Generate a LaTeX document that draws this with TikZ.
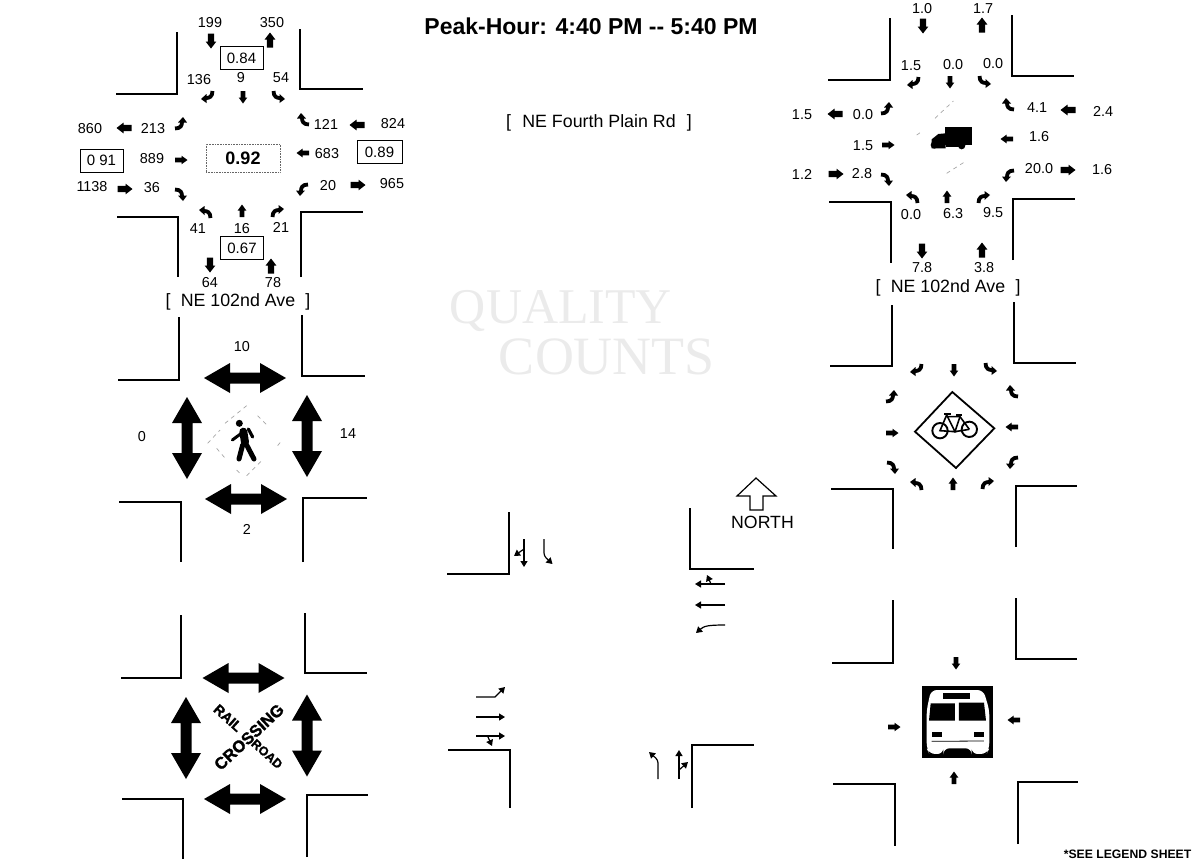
\documentclass[tikz,border=0pt]{standalone}
\usepackage{fontspec}
\setmainfont{Liberation Sans}
\newfontfamily\wmfont{Liberation Serif}
\newfontfamily\heavyfont[FakeBold=1.6]{Liberation Sans Bold}
\usetikzlibrary{arrows.meta}
\tikzset{
 lbl/.style={font=\fontsize{14.4}{15}\selectfont,inner sep=0pt},
 road/.style={font=\fontsize{17.8}{18}\selectfont,inner sep=0pt},
 valbox/.style={draw,line width=0.9pt,font=\fontsize{15}{16}\selectfont,inner sep=0pt,minimum width=43pt,minimum height=23pt},
 curb/.style={line width=2pt,line join=miter},
 lane/.style={line width=1.2pt,-{Triangle[length=6pt,width=7pt]}},
 rrtxt/.style={font=\heavyfont\fontsize{14}{16}\selectfont,inner sep=0pt},
 faint/.style={gray!70,line width=0.7pt,dash pattern=on 4pt off 4pt},
 bigar/.pic={\fill (7.5,0)--(0.5,-5.4)--(0.5,-3.2)--(-7.5,-3.2)--(-7.5,3.2)--(0.5,3.2)--(0.5,5.4)--cycle;},
 smallar/.pic={\fill (6.5,0)--(0.5,-4.3)--(0.5,-2.4)--(-6,-2.4)--(-6,2.4)--(0.5,2.4)--(0.5,4.3)--cycle;},
 turnA/.pic={\draw[line width=3.8pt] (4.5,-6) .. controls (4.5,0) and (1,1) .. (-2,1);
   \fill (-7,2)--(-1.5,-3)--(-1.5,6)--cycle;},
 turnB/.pic={\draw[line width=3.8pt] (-4.5,-6) .. controls (-4.5,0) and (-1,1) .. (2,1);
   \fill (7,2)--(1.5,-3)--(1.5,6)--cycle;},
 dbl/.pic={\fill (41,0)--(15,-15)--(15,-5.5)--(-15,-5.5)--(-15,-15)--(-41,0)--(-15,15)--(-15,5.5)--(15,5.5)--(15,15)--cycle;},
}
\begin{document}
\begin{tikzpicture}[x=1pt,y=-1pt]
\useasboundingbox (0,0) rectangle (1192,860);
\clip (0,0) rectangle (1192,860);
% watermark
\node[text=black!8,font=\wmfont\fontsize{50}{52}\selectfont,inner sep=0pt] (wmA) at (561,311) {QUALITY};
\node[text=black!8,font=\wmfont\fontsize{54}{56}\selectfont,inner sep=0pt] (wmB) at (607,357) {COUNTS};
% title etc
\node[font=\bfseries\fontsize{23}{24}\selectfont,inner sep=0pt] (title) at (591,26) {Peak-Hour: 4:40 PM -{}- 5:40 PM};
\node[road] (ewname) at (599,123) {[\hspace{0.35em} NE Fourth Plain Rd\hspace{0.35em} ]};
\node[road] (nsA) at (238,302) {[\hspace{0.3em} NE 102nd Ave\hspace{0.3em} ]};
\node[road] (nsB) at (948,288) {[\hspace{0.3em} NE 102nd Ave\hspace{0.3em} ]};
\node[font=\bfseries\fontsize{12.2}{13}\selectfont,inner sep=0pt,anchor=east] (legend) at (1191.5,854) {*SEE LEGEND SHEET};
% curbs
\foreach \a/\b/\c/\d/\e/\f/\g/\h/\i/\j/\k/\l/\m/\n/\o/\p in {
 116/94/177/32/300/29/89/363/117/217/178/277/301/277/212/363,
 118/380/179/317/302/315/376/365/119/502/181/562/303/562/498/367,
 121/678/181/615/305/613/673/367/122/799/183/859/307/857/795/368,
 828/80/890/18/1012/15/76/1074/829/202/891/263/1013/260/199/1075,
 830/366/892/305/1014/302/363/1076/831/489/893/549/1016/547/486/1077,
 832/663/893/600/1016/598/659/1077/833/784/895/846/1018/844/782/1078,
 447/574/509/512/690/508/569/754/448/750/510/808/692/808/745/754}{
 \draw[curb] (\a,\b) -- (\c,\b) -- (\c,\d);
 \draw[curb] (\e,\f) -- (\e,\g) -- (\h,\g);
 \draw[curb] (\i,\j) -- (\k,\j) -- (\k,\l);
 \draw[curb] (\m,\n) -- (\m,\o) -- (\p,\o);
}
% --- volumes
\foreach \n/\x/\y/\t in {a1/210/23/199,a2/272/23/350,a3/199/80/136,a4/241/78/9,a5/281/78/54,
 a6/90/129/860,a7/153/129/213,a8/326/124/121,a9/393/124/824,a10/152/159/889,a11/327/154/683,
 a12/92/187/1138,a13/152/188/36,a14/328/186/20,a15/392/184/965,a16/198/229/41,a17/242/229/16,a18/281/227/21,
 a19/210/283/64,a20/273/283/78,
 b1/922/9/1.0,b2/983/9/1.7,b3/911/66/1.5,b4/953/65/0.0,b5/993/64/0.0,b6/802/115/1.5,b7/863/115/0.0,
 b8/1037/108/4.1,b9/1103/111/2.4,b10/863/146/1.5,b11/1039/137/1.6,b12/802/174/1.2,b13/862/174/2.8,
 b14/1039/169/20.0,b15/1102/170/1.6,b16/911/215/0.0,b17/953/214/6.3,b18/993/213/9.5,b19/922/268/7.8,b20/984/268/3.8,
 c1/242/347/10,c2/247/529/2,c3/142/437/0,c4/348/434/14}{
 \node[lbl] (\n) at (\x,\y) {\t};
}
\node[valbox] (p84) at (241.5,58) {0.84};
\node[valbox] (p67) at (242,248) {0.67};
\node[valbox] (p91) at (101.5,160.5) {0 91};
\node[valbox,minimum width=45pt] (p89) at (379.5,152) {0.89};
\node[draw=black!60,line width=0.6pt,densely dotted,minimum width=74pt,minimum height=28pt,inner sep=0pt,font=\bfseries\fontsize{18}{19}\selectfont] (p92) at (243,158) {0.92};
% --- arrows top-left
\foreach \x/\y/\r in {211/41/-90,270/40/90,210/265/-90,271/266/90,124/128/180,357/125/180,125/189/0,358/185/0,
  923/26/-90,982/25/90,835/114/180,1068/110/180,836/174/0,1068/170/0,922/251/-90,982/250/90}{
 \pic[rotate=\r] at (\x,\y) {bigar};
}
\foreach \x/\y/\r in {243/97/-90,181/160/0,303/153/180,242/211/90,
  950/82/-90,888/145/0,1007/139/180,947/197/90,
  954/370/-90,892/433/0,1012/427/180,953/484/90,
  956/663/-90,1014/720/180,894/727/0,954/778/90}{
 \pic[rotate=\r] at (\x,\y) {smallar};
}
\foreach \xa/\ya/\xb/\yb/\xc/\yc/\xd/\yd/\xe/\ye/\xf/\yf/\xg/\yg/\xh/\yh in {
 208/97/278/97/181/124/303/120/181/194/302/189/206/212/277/211,
 914/83/984/82/887/109/1008/105/887/179/1008/175/913/197/983/197,
 917/370/990/369/892/397/1012/392/893/467/1012/462/917/484/987/483}{
 \pic at (\xa,\ya) {turnA};
 \pic at (\xb,\yb) {turnB};
 \pic[rotate=90] at (\xc,\yc) {turnB};
 \pic[rotate=-90] at (\xd,\yd) {turnA};
 \pic[rotate=90] at (\xe,\ye) {turnA};
 \pic[rotate=-90] at (\xf,\yf) {turnB};
 \pic[rotate=180] at (\xg,\yg) {turnB};
 \pic[rotate=180] at (\xh,\yh) {turnA};
}
% --- double arrows
\foreach \x/\y/\r in {245/378/0,246/499/0,187/438/90,307/436/90,243.5/678/0,245/799/0,186/738/90,307/735.5/90}{
 \pic[rotate=\r] at (\x,\y) {dbl};
}
% --- pedestrian sign
\begin{scope}[shift={(205,405)},x=0.3333pt,y=-0.3333pt]
 \draw[faint] (60,55)--(125,2);
 \draw[faint] (8,115)--(45,75);
 \draw[faint] (158,32)--(188,62);
 \draw[faint] (218,122)--(226,112);
 \draw[faint] (35,130)--(65,165);
 \draw[faint] (95,195)--(105,205);
 \draw[faint] (125,212)--(172,165);
 \fill (103,55) circle (10.5);
 \draw[line width=8pt,line cap=round] (115,80)--(120,112);
 \draw[line width=3pt,line cap=round] (105,88)--(82,105);
 \draw[line width=3.2pt,line cap=round] (130,72)--(143,96);
 \draw[line width=5pt,line cap=round] (113,120)--(102,162);
 \draw[line width=5pt,line cap=round] (125,120)--(147,162);
\end{scope}
% --- truck
\begin{scope}[shift={(780,0)},x=0.3333pt,y=-0.3333pt]
 \draw[faint] (465,355)--(520,303);
 \draw[faint] (410,405)--(428,393);
 \draw[faint] (500,520)--(560,482);
 \fill (496,381)--(575,381)--(575,435)--(496,435)--cycle;
 \fill (455,445)--(455,418)--(475,402)--(497,400)--(497,445)--cycle;
 \fill (463,435) circle (11);
 \fill (545,437) circle (11);
 \fill (497,430) rectangle (545,442);
\end{scope}
% --- bicycle sign
\begin{scope}[shift={(830,330)},x=0.3333pt,y=-0.3333pt]
 \draw[line width=1.8pt,line join=miter] (367,186)--(493,295)--(378,414)--(255,305)--cycle;
\end{scope}
\begin{scope}[shift={(915,385)},x=0.3333pt,y=-0.3333pt]
 \draw[line width=1.9pt] (75,137) circle (23);
 \draw[line width=1.9pt] (163,133) circle (23);
 \draw[line width=1.6pt] (75,137)--(95,90)--(120,140)--cycle;
 \draw[line width=1.6pt] (95,95)--(135,95)--(163,133);
 \draw[line width=1.6pt] (135,95)--(120,140)--(163,133);
 \draw[line width=1.6pt] (88,87)--(107,87);
 \draw[line width=1.6pt] (124,90)--(142,90);
\end{scope}
% --- bus sign
\begin{scope}[shift={(830,600)},x=0.3333pt,y=-0.3333pt]
 \fill (275,258) rectangle (488,475);
 \fill[white,rounded corners=6pt] (303,270)--(460,270)--(478,330)--(478,445)--(470,462)--(425,462)--(425,445)--(340,445)--(340,462)--(298,462)--(290,445)--(290,330)--cycle;
 \fill (340,278) rectangle (420,298);
 \fill (302,310)--(375,310)--(375,362)--(297,362)--cycle;
 \fill (387,308)--(462,308)--(468,362)--(387,362)--cycle;
 \fill (305,397) rectangle (335,412);
 \fill (432,395) rectangle (462,410);
 \draw[line width=0.8pt] (305,424)--(462,423);
\end{scope}
% --- rail road crossing
\node[rrtxt,font=\heavyfont\fontsize{16.5}{18}\selectfont,rotate=43] (rrC) at (249,737) {CROSSING};
\node[rrtxt,rotate=-42] (rrR) at (228,718) {RAIL};
\node[rrtxt,rotate=-42,font=\heavyfont\fontsize{12.5}{14}\selectfont] (rrD) at (267,754) {ROAD};
% --- lanes
\coordinate (sa) at (524,539); \coordinate (sb) at (524,567); \coordinate (sc) at (524,549); \coordinate (sd) at (514,556);
\draw[lane] (sa)--(sb);
\draw[lane] (sc)--(sd);
\draw[lane,rounded corners=3pt] (544,539)--(544,556)--(552.5,564);
\draw[lane] (725,584)--(695,584);
\draw[lane] (711,584)--(707,575);
\draw[lane] (725,605)--(695,605);
\draw[lane] (725,625) .. controls (708,625) and (704,626) .. (696,633);
\draw[lane] (476,697)--(495,697)--(505,687);
\draw[lane] (476,717)--(505,717);
\draw[lane] (476,736)--(505,736);
\draw[lane] (488,737)--(492,746);
\draw[lane,rounded corners=3pt] (658,779)--(658,760)--(649,752);
\draw[lane] (679,779)--(679,750);
\draw[lane] (679,770)--(688,762);
% --- north arrow
\draw[line width=1.2pt,line join=miter] (756,478)--(776,496)--(763,496)--(763,510)--(750,510)--(750,496)--(737,496)--cycle;
\node[inner sep=0pt,font=\fontsize{17.7}{18}\selectfont] (north) at (762.5,522) {NORTH};
\end{tikzpicture}
\end{document}
